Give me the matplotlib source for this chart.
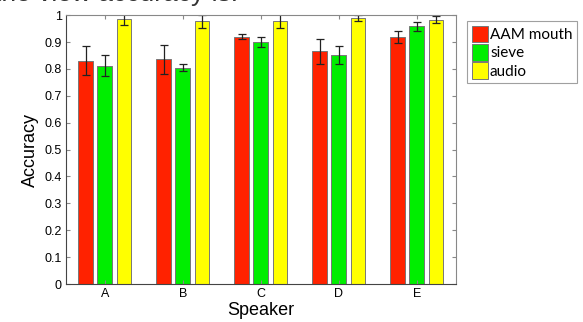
import numpy as np
import matplotlib
matplotlib.use("Agg")
import matplotlib.pyplot as plt

speakers = ["A", "B", "C", "D", "E"]
aam_mouth = [0.830, 0.835, 0.920, 0.865, 0.920]
aam_err = [0.054, 0.055, 0.008, 0.045, 0.022]
sieve = [0.812, 0.805, 0.900, 0.852, 0.958]
sieve_err = [0.040, 0.013, 0.018, 0.035, 0.016]
audio = [0.985, 0.978, 0.978, 0.990, 0.983]
audio_err = [0.022, 0.024, 0.025, 0.010, 0.014]

plt.rcParams['font.family'] = ['Liberation Sans', 'DejaVu Sans']

fig = plt.figure(figsize=(5.83, 3.22), dpi=100)
ax = fig.add_axes([0.113, 0.118, 0.669, 0.835])

x = np.arange(1, len(speakers) + 1)
w = 0.19
off = 0.245
edge = '#777777'
ekw = dict(ecolor='#222222', elinewidth=0.9, capsize=3, capthick=0.9)

ax.bar(x - off, aam_mouth, w, yerr=aam_err, color='#ff2200', edgecolor=edge,
       linewidth=0.7, label='AAM mouth', error_kw=ekw)
ax.bar(x, sieve, w, yerr=sieve_err, color='#00ee00', edgecolor=edge,
       linewidth=0.7, label='sieve', error_kw=ekw)
ax.bar(x + off, audio, w, yerr=audio_err, color='#ffff00', edgecolor=edge,
       linewidth=0.7, label='audio', error_kw=ekw)

ax.set_xlim(0.5, 5.5)
ax.set_ylim(0, 1)
ax.set_xticks(x)
ax.set_xticklabels(speakers)
ax.set_yticks(np.arange(0, 1.01, 0.1))
ax.set_yticklabels(['0'] + ['%.1f' % v for v in np.arange(0.1, 0.95, 0.1)] + ['1'])
ax.tick_params(direction='in', length=3, top=True, right=True, labelsize=9,
               color='#888888', pad=3)
for s in ax.spines.values():
    s.set_color('#888888')
ax.spines['bottom'].set_color('#444444')
ax.spines['left'].set_color('#444444')
ax.set_xlabel('Speaker', fontsize=13, labelpad=1)
ax.set_ylabel('Accuracy', fontsize=13, labelpad=4)

leg = fig.legend(loc='upper left', bbox_to_anchor=(0.788, 0.958),
                 frameon=True, fancybox=False, handlelength=1.1, handleheight=1.3,
                 handletextpad=0.1, borderpad=0.3, labelspacing=0.1,
                 prop={'family': ['Lato', 'DejaVu Sans'], 'size': 11})
leg.get_frame().set_edgecolor('#888888')
leg.get_frame().set_linewidth(0.8)

# caption line from the page above, cut off by the crop
fig.text(-0.01, 0.996, 'the view accuracy is.', fontsize=19, va='baseline',
         color='#333333')

fig.savefig('out.png', dpi=100)
